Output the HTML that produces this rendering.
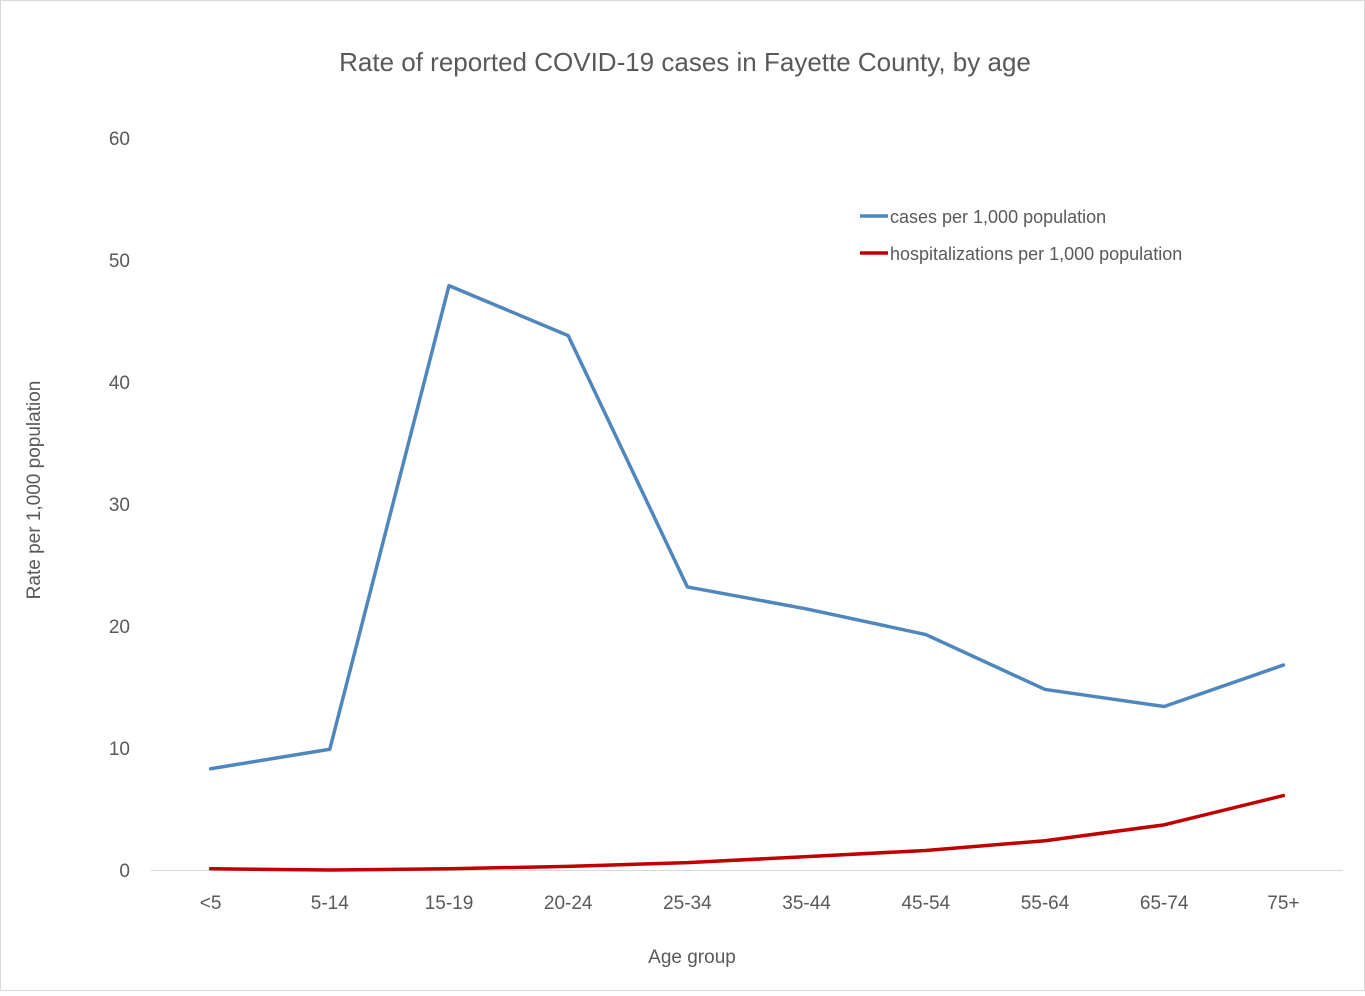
<!DOCTYPE html>
<html><head><meta charset="utf-8"><style>
body{margin:0;background:#fff;}
svg text{font-family:"Liberation Sans",sans-serif;fill:#595959;}
</style></head><body>
<svg width="1365" height="991" xmlns="http://www.w3.org/2000/svg">
<rect x="0.5" y="0.5" width="1364" height="990" fill="#fff" stroke="#d9d9d9"/>
<text x="685" y="71" font-size="26" text-anchor="middle">Rate of reported COVID-19 cases in Fayette County, by age</text>
<text transform="translate(40,490) rotate(-90)" font-size="19" text-anchor="middle">Rate per 1,000 population</text>
<text x="692" y="963" font-size="19" text-anchor="middle">Age group</text>
<line x1="151" y1="870.5" x2="1343" y2="870.5" stroke="#d9d9d9"/>
<g id="yticks"></g><g id="xticks"></g><g id="series"></g>
<line x1="860" y1="216" x2="888" y2="216" stroke="#4f87bd" stroke-width="3.5"/>
<text x="890" y="223" font-size="18">cases per 1,000 population</text>
<line x1="860" y1="253" x2="888" y2="253" stroke="#c00000" stroke-width="3.5"/>
<text x="890" y="260" font-size="18">hospitalizations per 1,000 population</text>
</svg>
<script>
const categories=["<5","5-14","15-19","20-24","25-34","35-44","45-54","55-64","65-74","75+"];
const cases=[8.3,9.9,47.9,43.8,23.2,21.4,19.3,14.8,13.4,16.8];
const hospitalizations=[0.1,0,0.1,0.3,0.6,1.1,1.6,2.4,3.7,6.1];
const yTicks=[0,10,20,30,40,50,60];
const NS="http://www.w3.org/2000/svg";
const x0=151,x1=1343,yBase=870,yTop=138,yMax=60;
const band=(x1-x0)/categories.length;
const X=i=>x0+band*(i+0.5);
const Y=v=>yBase-(v/yMax)*(yBase-yTop);
function mk(tag,attrs,parent){const e=document.createElementNS(NS,tag);for(const k in attrs)e.setAttribute(k,attrs[k]);document.getElementById(parent).appendChild(e);return e;}
yTicks.forEach(t=>{const e=mk("text",{x:130,y:Y(t)+7,"font-size":19,"text-anchor":"end"},"yticks");e.textContent=t;

});
categories.forEach((c,i)=>{const e=mk("text",{x:X(i),y:909,"font-size":19,"text-anchor":"middle"},"xticks");e.textContent=c;

});
function line(vals,color,name){const p=mk("polyline",{points:vals.map((v,i)=>X(i)+","+Y(v)).join(" "),fill:"none",stroke:color,"stroke-width":3.5,"stroke-linejoin":"round","stroke-linecap":"round"},"series");

}
line(hospitalizations,"#c00000","hospitalizations-line");
line(cases,"#4f87bd","cases-line");
</script>
</body></html>
